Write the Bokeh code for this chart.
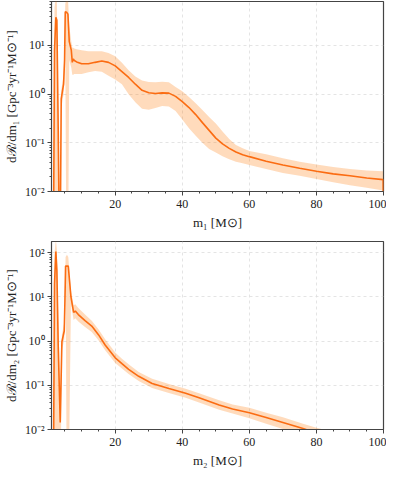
from bokeh.plotting import figure
from bokeh.layouts import column
from bokeh.models import Range1d, FixedTicker
from bokeh.embed import file_html
from bokeh.resources import INLINE

# ---- data: primary mass m1 ----
m1 = [1.0, 1.5, 1.9, 2.3, 2.6, 3.0, 3.5, 3.9, 4.6, 4.9, 5.1, 5.5, 5.9, 6.3, 6.9, 7.2, 7.5, 7.8,
      8.5, 10, 12, 14, 16, 18, 20, 22, 24, 26, 28, 30, 32, 34, 36, 38, 40, 42, 44, 46, 48, 50,
      52, 54, 56, 58, 60, 65, 70, 75, 80, 85, 90, 95, 99.9, 100]
r1_med = [1e-4, 1e-4, 8, 38, 33, 0.2, 1e-4, 0.8, 1.6, 5, 49, 48, 44, 12, 8, 4.5, 5.3, 4.9,
          4.6, 4.2, 4.2, 4.5, 4.8, 4.5, 3.8, 2.9, 2.2, 1.6, 1.2, 1.07, 1.03, 1.06, 1.05, 0.9, 0.7, 0.53, 0.38, 0.26, 0.18, 0.125,
          0.095, 0.077, 0.065, 0.057, 0.052, 0.042, 0.035, 0.030, 0.026, 0.023, 0.021, 0.019, 0.0175, 1e-4]
r1_hi = [1e-4, 1e-4, 60, 100, 80, 0.5, 1e-4, 1.2, 2.4, 10, 70, 100, 100, 25, 12, 9, 9, 8.7,
         8.4, 8.0, 7.6, 7.6, 7.6, 7.0, 6.0, 4.4, 3.1, 2.3, 1.9, 1.78, 1.75, 1.8, 1.75, 1.4, 1.15, 0.87, 0.65, 0.47, 0.34, 0.25,
         0.17, 0.12, 0.09, 0.077, 0.068, 0.058, 0.048, 0.041, 0.036, 0.032, 0.029, 0.027, 0.026, 1e-4]
r1_lo = [1e-5, 1e-5, 1e-4, 1e-4, 1e-4, 1e-4, 1e-5, 0.5, 1.0, 2, 10, 1e-4, 1e-4, 5, 3.5, 2.5, 2.5, 2.6,
         2.6, 2.6, 2.8, 3.0, 2.9, 2.4, 2.0, 1.6, 1.0, 0.68, 0.5, 0.48, 0.52, 0.57, 0.56, 0.45, 0.3, 0.2, 0.14, 0.1, 0.075, 0.063,
         0.053, 0.046, 0.041, 0.038, 0.035, 0.029, 0.024, 0.021, 0.018, 0.0155, 0.0135, 0.012, 0.0105, 1e-5]

# ---- data: secondary mass m2 ----
m2 = [1.0, 1.5, 1.9, 2.3, 2.6, 3.0, 3.6, 4.1, 4.8, 5.0, 5.2, 5.6, 6.0, 6.8, 7.6, 8.1, 9, 11, 13, 15,
      17, 20, 22, 24, 27, 31, 36, 41, 45, 51, 55, 60, 65, 70, 76, 80, 85]
r2_med = [1e-4, 1e-4, 20, 107, 40, 0.8, 0.0145, 0.97, 1.7, 8, 50, 50, 50, 10, 4.5, 4.8, 4.0, 2.9, 2.2, 1.4,
          0.82, 0.42, 0.31, 0.23, 0.16, 0.11, 0.085, 0.066, 0.052, 0.036, 0.029, 0.024, 0.0186, 0.0144, 0.0105, 0.0083, 0.0065]
r2_hi = [1e-4, 1e-4, 100, 200, 120, 5, 0.05, 1.4, 2.6, 15, 80, 90, 80, 14, 6.5, 6.8, 5.6, 4.0, 2.9, 1.85,
         1.1, 0.55, 0.40, 0.30, 0.20, 0.14, 0.107, 0.084, 0.066, 0.046, 0.037, 0.031, 0.024, 0.019, 0.0135, 0.011, 0.0088]
r2_lo = [1e-5, 1e-5, 1e-4, 1e-4, 1e-4, 1e-4, 1e-4, 0.6, 1.1, 3, 20, 1e-4, 1e-4, 7, 3.0, 3.3, 2.8, 2.1, 1.6, 1.05,
         0.62, 0.32, 0.24, 0.18, 0.125, 0.087, 0.067, 0.052, 0.041, 0.028, 0.023, 0.018, 0.0135, 0.0102, 0.0075, 0.006, 0.0047]

x_major = [20, 40, 60, 80, 100]
x_minor = [5, 10, 15, 25, 30, 35, 45, 50, 55, 65, 70, 75, 85, 90, 95]
y_major = [0.01, 0.1, 1, 10, 100]
y_labels = {0.01: "10\u207b\u00b2", 0.1: "10\u207b\u00b9", 1: "10\u2070", 10: "10\u00b9", 100: "10\u00b2"}
y_minor = [k * 10.0 ** e for e in range(-2, 3) for k in range(2, 10)]

LINE = "#fb6c12"
BAND = "#ff7f0e"
FONT = "Liberation Serif"


def make(xs, med, hi, lo, ymax, xlabel, ylabel, top_border, fh):
    p = figure(width=380, frame_width=332, frame_height=fh, y_axis_type="log",
               x_range=Range1d(1, 100), y_range=Range1d(0.01, ymax),
               output_backend="svg", toolbar_location=None,
               min_border_top=top_border, min_border_right=3, min_border_bottom=2, min_border_left=45)
    p.varea(x=xs, y1=lo, y2=hi, fill_color=BAND, fill_alpha=0.28)
    p.line(xs, med, line_color=LINE, line_width=1.6)

    p.xaxis.ticker = FixedTicker(ticks=x_major, minor_ticks=x_minor)
    p.yaxis.ticker = FixedTicker(ticks=y_major, minor_ticks=y_minor)
    p.yaxis.major_label_overrides = y_labels
    for ax in (p.xaxis[0], p.yaxis[0]):
        ax.major_label_text_font = FONT
        ax.major_label_text_font_size = "12px"
        ax.major_label_text_color = "#222222"
        ax.axis_label_text_font = FONT
        ax.axis_label_text_font_style = "normal"
        ax.axis_label_text_font_size = "13px"
        ax.axis_label_text_color = "#222222"
        ax.axis_line_color = "#444444"
        ax.major_tick_line_color = "#444444"
        ax.minor_tick_line_color = "#444444"
        ax.major_tick_out = 4
        ax.major_tick_in = 0
        ax.minor_tick_out = 2
        ax.minor_tick_in = 0
    p.xaxis.axis_label = xlabel
    p.yaxis.axis_label = ylabel
    p.xaxis.axis_label_standoff = 4
    p.yaxis.axis_label_standoff = 3
    p.xaxis.major_label_standoff = 4
    p.yaxis.major_label_standoff = 3

    p.grid.grid_line_color = "#dddddd"
    p.grid.grid_line_dash = "3 3"
    p.grid.grid_line_width = 0.8
    p.outline_line_color = "#444444"
    p.outline_line_width = 1.2
    p.background_fill_color = "white"
    p.border_fill_color = "white"
    return p


p1 = make(m1, r1_med, r1_hi, r1_lo, 80, "m\u2081 [M\u2299]",
          "d\u211b/dm\u2081 [Gpc\u207b\u00b3yr\u207b\u00b9M\u2299\u207b\u00b9]", 1, 190)
p2 = make(m2, r2_med, r2_hi, r2_lo, 180, "m\u2082 [M\u2299]",
          "d\u211b/dm\u2082 [Gpc\u207b\u00b3yr\u207b\u00b9M\u2299\u207b\u00b9]", 9, 188)

layout = column(p1, p2, spacing=0)
open("out.html", "w").write(file_html(layout, INLINE))
